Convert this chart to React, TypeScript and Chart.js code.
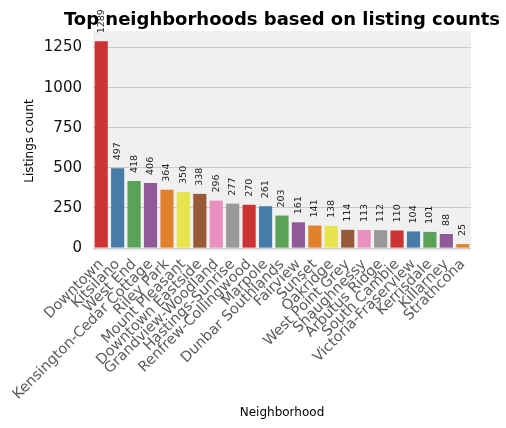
import React, { useEffect, useRef } from "react";
import { Chart, registerables } from "chart.js";

Chart.register(...registerables);

const chartTitle = "Top neighborhoods based on listing counts";
const xAxisTitle = "Neighborhood";
const yAxisTitle = "Listings count";

const neighborhoods = [
  "Downtown",
  "Kitsilano",
  "West End",
  "Kensington-Cedar Cottage",
  "Riley Park",
  "Mount Pleasant",
  "Downtown Eastside",
  "Grandview-Woodland",
  "Hastings-Sunrise",
  "Renfrew-Collingwood",
  "Marpole",
  "Dunbar Southlands",
  "Fairview",
  "Sunset",
  "Oakridge",
  "West Point Grey",
  "Shaughnessy",
  "Arbutus Ridge",
  "South Cambie",
  "Victoria-Fraserview",
  "Kerrisdale",
  "Killarney",
  "Strathcona",
];

const listingCounts = [
  1289, 497, 418, 406, 364, 350, 338, 296, 277, 270, 261, 203, 161, 141, 138,
  114, 113, 112, 110, 104, 101, 88, 25,
];

const yTicks = [0, 250, 500, 750, 1000, 1250];

const palette = [
  "#cc3335",
  "#477ca8",
  "#59a257",
  "#905998",
  "#e1812b",
  "#e8e44d",
  "#965a38",
  "#e890be",
  "#999999",
];

const FONT = "'DejaVu Sans', sans-serif";

export default function App() {
  const ref = useRef<HTMLCanvasElement | null>(null);

  useEffect(() => {
    if (!ref.current) return;

    const bgPlugin = {
      id: "plotBg",
      beforeDraw(chart: any) {
        const { ctx, chartArea } = chart;
        ctx.save();
        ctx.fillStyle = "#f0f0f0";
        ctx.fillRect(
          chartArea.left,
          chartArea.top,
          chartArea.right - chartArea.left,
          chartArea.bottom - chartArea.top
        );
        ctx.restore();
      },
    };

    const valuePlugin = {
      id: "values",
      afterDatasetsDraw(chart: any) {
        const { ctx } = chart;
        const meta = chart.getDatasetMeta(0);
        ctx.save();
        ctx.fillStyle = "#222";
        ctx.font = `9.5px ${FONT}`;
        ctx.textAlign = "left";
        ctx.textBaseline = "middle";
        meta.data.forEach((el: any, i: number) => {
          ctx.save();
          ctx.translate(el.x, el.y - 8);
          ctx.rotate(-Math.PI / 2);
          ctx.fillText(String(listingCounts[i]), 0, 0);
          ctx.restore();
        });
        ctx.restore();
      },
    };

    const titlePlugin = {
      id: "customTitle",
      afterDraw(chart: any) {
        const { ctx, chartArea } = chart;
        ctx.save();
        ctx.fillStyle = "#000";
        ctx.font = `bold 18px ${FONT}`;
        ctx.textAlign = "center";
        ctx.textBaseline = "middle";
        ctx.fillText(chartTitle, (chartArea.left + chartArea.right) / 2, 20);
        ctx.restore();
      },
    };

    const chart = new Chart(ref.current, {
      type: "bar",
      data: {
        labels: neighborhoods,
        datasets: [
          {
            data: listingCounts,
            backgroundColor: listingCounts.map((_, i) => palette[i % palette.length]),
            barPercentage: 0.8,
            categoryPercentage: 1,
          },
        ],
      },
      options: {
        responsive: false,
        animation: false,
        layout: { padding: { top: 31, left: 19, right: 35, bottom: 0 } },
        plugins: {
          legend: { display: false },
          title: { display: false },
          tooltip: { enabled: false },
        },
        scales: {
          x: {
            grid: { display: false, drawTicks: false },
            border: { display: false },
            ticks: {
              autoSkip: false,
              minRotation: 45,
              maxRotation: 45,
              padding: 5,
              color: "#5a5a5a",
              font: { family: FONT, size: 14.5 },
            },
            title: {
              display: true,
              text: xAxisTitle,
              color: "#000",
              font: { family: FONT, size: 12 },
              padding: { top: 4, bottom: 8 },
            },
            afterFit(scale: any) {
              scale.height = 177;
            },
          },
          y: {
            min: -18,
            max: 1353,
            grid: { color: "#cbcbcb", lineWidth: 1, drawTicks: false },
            border: { display: false },
            afterBuildTicks(scale: any) {
              scale.ticks = yTicks.map((v) => ({ value: v }));
            },
            ticks: {
              padding: 11,
              color: "#111",
              font: { family: FONT, size: 15 },
              callback: (v: any) => String(v),
            },
            title: {
              display: true,
              text: yAxisTitle,
              color: "#000",
              font: { family: FONT, size: 12 },
              padding: { top: 4, bottom: 4 },
            },
            afterFit(scale: any) {
              scale.width = 74;
            },
          },
        },
      },
      plugins: [bgPlugin, valuePlugin, titlePlugin],
    });

    return () => chart.destroy();
  }, []);

  return (
    <div style={{ position: "fixed", left: 0, top: 0, width: 506, height: 428, background: "#fff" }}>
      <canvas ref={ref} width={506} height={428} />
    </div>
  );
}
